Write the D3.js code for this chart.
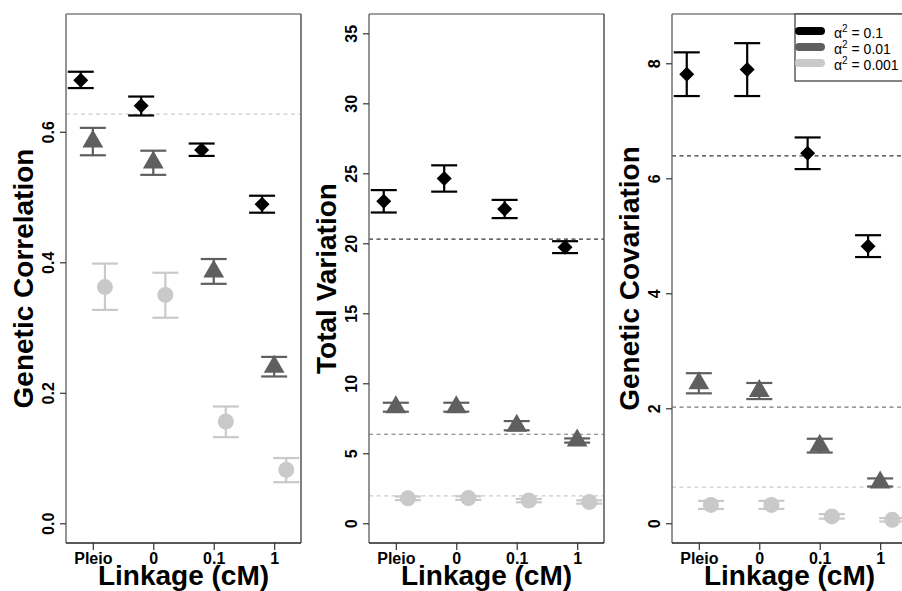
<!DOCTYPE html>
<html><head><meta charset="utf-8">
<script src="https://cdn.jsdelivr.net/npm/d3@7"></script>
<style>body{margin:0;background:#fff} svg{display:block}</style>
</head><body><svg id="c" width="902" height="591"></svg>
<script>
const categories = ["Pleio","0","0.1","1"];
const seriesLabels = ["0.1","0.01","0.001"];
const seriesColors = ["#000000","#5f5f5f","#c9c9c9"];
const expectedColors = ["#333333","#777777","#cccccc"];
const seriesShapes = ["diamond","triangle","circle"];
const seriesOffsets = [-0.2, 0, 0.2];

// Panel 1: Genetic Correlation
const corrMean = [[0.679,0.640,0.572,0.489],[0.585,0.553,0.386,0.240],[0.362,0.350,0.156,0.082]];
const corrLow  = [[0.667,0.625,0.563,0.476],[0.564,0.534,0.367,0.225],[0.327,0.315,0.132,0.063]];
const corrHigh = [[0.692,0.654,0.582,0.502],[0.606,0.571,0.405,0.255],[0.398,0.384,0.179,0.100]];
const corrExpected = [null,null,0.627];
const corrTicks = [0,0.2,0.4,0.6];
const corrLimits = [-0.0302,0.7805];

// Panel 2: Total Variation
const varMean = [[23.0,24.63,22.45,19.72],[8.29,8.29,6.97,5.92],[1.78,1.80,1.62,1.52]];
const varLow  = [[22.2,23.69,21.8,19.3],[7.97,7.97,6.64,5.76],[1.65,1.67,1.50,1.40]];
const varHigh = [[23.8,25.57,23.1,20.15],[8.61,8.61,7.30,6.06],[1.91,1.93,1.74,1.64]];
const varExpected = [20.3,6.36,1.95];
const varTicks = [0,5,10,15,20,25,30,35];
const varLimits = [-1.41,36.38];

// Panel 3: Genetic Covariation
const covMean = [[7.81,7.89,6.435,4.82],[2.435,2.30,1.35,0.71],[0.32,0.32,0.12,0.06]];
const covLow  = [[7.43,7.43,6.16,4.63],[2.26,2.16,1.23,0.64],[0.25,0.25,0.08,0.03]];
const covHigh = [[8.19,8.35,6.71,5.01],[2.61,2.44,1.47,0.78],[0.39,0.39,0.16,0.09]];
const covExpected = [6.39,2.02,0.63];
const covTicks = [0,2,4,6,8];
const covLimits = [-0.343,8.857];

const xLimits = [0.556,4.444];
const FONT = "'Liberation Sans', Arial, Helvetica, sans-serif";
const svg = d3.select("#c");

const panels = [
  {left:66, title:"Genetic Correlation", mean:corrMean, low:corrLow, high:corrHigh, expected:corrExpected, ticks:corrTicks, limits:corrLimits, fmt:d3.format(".1f")},
  {left:369, title:"Total Variation", mean:varMean, low:varLow, high:varHigh, expected:varExpected, ticks:varTicks, limits:varLimits, fmt:d3.format("d")},
  {left:672, title:"Genetic Covariation", mean:covMean, low:covLow, high:covHigh, expected:covExpected, ticks:covTicks, limits:covLimits, fmt:d3.format("d")}
];

const plotTop = 14, plotBottom = 543, pw = 235;

function shapePath(shape){
  if (shape === "diamond") return "M0,-7.5L7.5,0L0,7.5L-7.5,0Z";
  if (shape === "triangle") return "M0,-12L10.4,6L-10.4,6Z";
  return d3.symbol(d3.symbolCircle, Math.PI*8*8)();
}

panels.forEach(p => {
  const x = d3.scaleLinear().domain(xLimits).range([p.left, p.left+pw]);
  const y = d3.scaleLinear().domain(p.limits).range([plotBottom, plotTop]);
  const g = svg.append("g");

  p.expected.forEach((v,s) => {
    if (v === null) return;
    g.append("line").attr("x1", p.left).attr("x2", p.left+pw)
      .attr("y1", y(v)).attr("y2", y(v))
      .attr("stroke", expectedColors[s]).attr("stroke-width", 1.2)
      .attr("stroke-dasharray", "4,3.5");
  });

  p.mean.forEach((vals, s) => {
    vals.forEach((v, i) => {
      const cx = x(i + 1 + seriesOffsets[s]);
      const col = seriesColors[s];
      const lo = y(p.low[s][i]), hi = y(p.high[s][i]);
      g.append("line").attr("x1",cx).attr("x2",cx).attr("y1",lo).attr("y2",hi)
        .attr("stroke",col).attr("stroke-width",2.2);
      [lo,hi].forEach(yy => g.append("line").attr("x1",cx-13).attr("x2",cx+13)
        .attr("y1",yy).attr("y2",yy).attr("stroke",col).attr("stroke-width",2.2));
      g.append("path").attr("d", shapePath(seriesShapes[s]))
        .attr("transform", `translate(${cx},${y(v)})`).attr("fill", col);
    });
  });

  g.append("line").attr("x1",p.left).attr("x2",p.left+pw).attr("y1",plotTop).attr("y2",plotTop).attr("stroke","#808080").attr("stroke-width",1.5);
  g.append("line").attr("x1",p.left).attr("x2",p.left).attr("y1",plotTop).attr("y2",plotBottom).attr("stroke","#707070").attr("stroke-width",1.5);
  g.append("line").attr("x1",p.left+pw).attr("x2",p.left+pw).attr("y1",plotTop).attr("y2",plotBottom).attr("stroke","#555").attr("stroke-width",1.5);
  g.append("line").attr("x1",p.left).attr("x2",p.left+pw).attr("y1",plotBottom).attr("y2",plotBottom).attr("stroke","#222").attr("stroke-width",1.5);

  const ya = g.append("g").attr("transform",`translate(${p.left},0)`)
    .call(d3.axisLeft(y).tickValues(p.ticks).tickFormat(p.fmt).tickSize(6).tickSizeOuter(0));
  ya.select(".domain").remove();
  ya.selectAll(".tick line").attr("stroke","#333").attr("stroke-width",1.2);
  ya.selectAll(".tick text").attr("transform","rotate(-90)").attr("x",0).attr("y",-12).attr("dy",0)
    .attr("text-anchor","middle").attr("font-family",FONT).attr("font-size",16).attr("font-weight","bold").attr("fill","#000");

  const xa = g.append("g").attr("transform",`translate(0,${plotBottom})`)
    .call(d3.axisBottom(x).tickValues([1,2,3,4]).tickFormat((d,i)=>categories[i]).tickSize(7).tickSizeOuter(0));
  xa.select(".domain").remove();
  xa.selectAll(".tick line").attr("stroke","#333").attr("stroke-width",1.2);
  xa.selectAll(".tick text").attr("y",21).attr("dy",0).attr("font-family",FONT).attr("font-size",16)
    .attr("font-weight","bold").attr("fill","#000");

  g.append("text").attr("transform",`translate(${p.left-33},${(plotTop+plotBottom)/2}) rotate(-90)`)
    .attr("text-anchor","middle").attr("font-family",FONT).attr("font-size",28).attr("font-weight","bold")
    .text(p.title);
  g.append("text").attr("x",p.left+pw/2).attr("y",585).attr("text-anchor","middle")
    .attr("font-family",FONT).attr("font-size",28).attr("font-weight","bold").text("Linkage (cM)");
});

const lg = svg.append("g");
lg.append("rect").attr("x",795).attr("y",14).attr("width",120).attr("height",67)
  .attr("fill","#fff").attr("stroke","#333").attr("stroke-width",1.2);
seriesLabels.forEach((lab, s) => {
  const yy = 31 + s*16;
  lg.append("line").attr("x1",799).attr("x2",821).attr("y1",yy).attr("y2",yy)
    .attr("stroke",seriesColors[s]).attr("stroke-width",8).attr("stroke-linecap","round");
  const t = lg.append("text").attr("x",834).attr("y",yy+7).attr("font-family",FONT).attr("font-size",14).attr("fill","#000");
  t.append("tspan").text("α");
  t.append("tspan").attr("dy",-6).attr("font-size",10).text("2");
  t.append("tspan").attr("dy",6).text(" = " + lab);
});
</script></body></html>
